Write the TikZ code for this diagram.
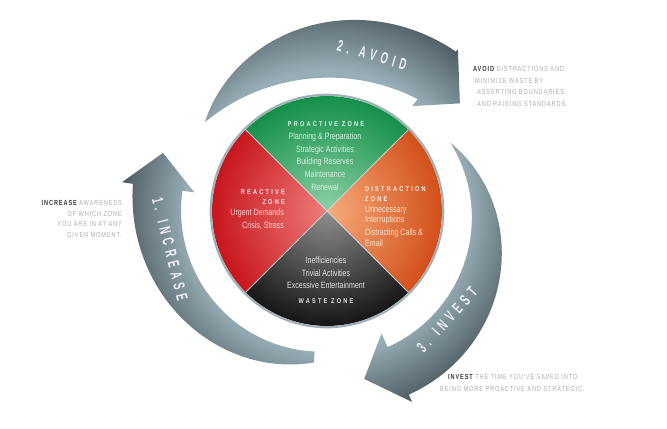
\documentclass[tikz,border=0pt]{standalone}
\usepackage{fontspec}
\setmainfont{Liberation Sans}
\newfontfamily\zonefont[FakeStretch=0.77]{Liberation Sans}
\newfontfamily\headfont[FakeStretch=0.8,LetterSpace=32]{Liberation Sans}
\newfontfamily\notefont[FakeStretch=0.76,LetterSpace=12]{Liberation Sans}
\newfontfamily\stepfont[FakeStretch=0.6,LetterSpace=30]{Liberation Sans}
\usetikzlibrary{positioning}
\usetikzlibrary{calc}

\definecolor{greenout}{HTML}{14904A}
\definecolor{greenin}{HTML}{8ED0A6}
\definecolor{redout}{HTML}{C8161D}
\definecolor{redin}{HTML}{EE7D7A}
\definecolor{orangeout}{HTML}{D2501A}
\definecolor{orangein}{HTML}{F6AC7C}
\definecolor{wasteout}{HTML}{161616}
\definecolor{wastein}{HTML}{8E8E8E}
\definecolor{ringdark}{HTML}{4E5C62}
\definecolor{ringlight}{HTML}{98AEB6}
\definecolor{rimgray}{HTML}{9FB1B7}
\definecolor{divider}{HTML}{D0D4D4}
\definecolor{greentext}{HTML}{D6F0DD}
\definecolor{redtext}{HTML}{FCD6D4}
\definecolor{orangetext}{HTML}{FDE2CF}
\definecolor{wastetext}{HTML}{E2E2E2}
\definecolor{notegray}{HTML}{ADADAD}
\definecolor{notedark}{HTML}{3C3C3C}

\pgfdeclareradialshading{ringshade}{\pgfpoint{0bp}{0bp}}{color(0bp)=(ringlight); color(16bp)=(ringlight); color(23.5bp)=(ringdark); color(50bp)=(ringdark)}

\tikzstyle{zonehead}=[font=\headfont\bfseries\fontsize{7}{7}\selectfont, inner sep=0pt]
\tikzstyle{zonetext}=[font=\zonefont\fontsize{9.2}{10}\selectfont, inner sep=0pt]
\tikzstyle{steplabel}=[font=\stepfont\bfseries\fontsize{16}{16}\selectfont, text=white!94!blue, inner sep=0pt]
\tikzstyle{note}=[font=\notefont\fontsize{7.4}{7.4}\selectfont, text=notegray, inner sep=0pt]

\begin{document}
\begin{tikzpicture}[x=1bp, y=1bp,
    declare function={
      avoidang(\t)=144-93*\t;
      avoidout(\t)=151+81*\t-27*\t*\t;
      avoidin(\t)=151-62.7*\t+55.7*\t*\t;
      investang(\t)=29-95*\t;
      investout(\t)=141+60*sin(90*\t);
      investin(\t)=141+8*sin(90*\t);
      increaseang(\t)=265-93*\t;
      increaseout(\t)=196-22*(1-\t)-22*(1-\t)*(1-\t);
      increasein(\t)=146-5*(1-\t)*(1-\t);
    }]

    \fill[white] (0,0) rectangle (667,-428);
    \useasboundingbox (0,0) rectangle (667,-428);

  \begin{scope}[shift={(327,-211)}]
    % the three step arrows
    \begin{scope}
      \clip plot[domain=0:1, samples=50, variable=\t] ({avoidout(\t)*cos(avoidang(\t))}, {avoidout(\t)*sin(avoidang(\t))})
          -- (51:208) -- (39:171) -- (51:135)
          -- plot[domain=1:0, samples=50, variable=\t] ({avoidin(\t)*cos(avoidang(\t))}, {avoidin(\t)*sin(avoidang(\t))}) -- cycle
        plot[domain=0:1, samples=50, variable=\t] ({investout(\t)*cos(investang(\t))}, {investout(\t)*sin(investang(\t))})
          -- (-66:209) -- (-77.5:172) -- (-66:134)
          -- plot[domain=1:0, samples=50, variable=\t] ({investin(\t)*cos(investang(\t))}, {investin(\t)*sin(investang(\t))}) -- cycle
        plot[domain=0:1, samples=50, variable=\t] ({increaseout(\t)*cos(increaseang(\t))}, {increaseout(\t)*sin(increaseang(\t))})
          -- (172:207) -- (160.5:174) -- (172:134)
          -- plot[domain=1:0, samples=50, variable=\t] ({increasein(\t)*cos(increaseang(\t))}, {increasein(\t)*sin(increaseang(\t))}) -- cycle;
      \shade[shading=ringshade] (0,0) circle (220);
    \end{scope}

    % zone wheel
    \foreach \from/\inner/\outer in {45/greenin/greenout, 135/redin/redout, 225/wastein/wasteout, 315/orangein/orangeout} {
      \begin{scope}
        \clip (0,0) -- (\from:115) arc[start angle=\from, delta angle=90, radius=115] -- cycle;
        \shade[inner color=\inner, outer color=\outer] (0,0) circle (115);
      \end{scope}
    }
    \draw[rimgray, line width=2.2] (0,0) circle (116.2);
    \draw[divider, line width=0.9] (45:115) -- (225:115) (135:115) -- (315:115);
  \end{scope}

    \node[steplabel, rotate=-16] (avoidlabel) at (372,-55) {2. AVOID};
    \node[steplabel, rotate=48] (investlabel) at (447,-320) {3. INVEST};
    \node[steplabel, rotate=-76] (increaselabel) at (170,-249) {1. INCREASE};

    % proactive
    \node[zonehead, text=greentext!60!white] (prohead) at (326,-124) {PROACTIVE ZONE};
    \foreach \pos/\name/\label in {{(325,-137)/plan/Planning \& Preparation}, {(325,-150)/strat/Strategic Activities},
        {(325,-162)/reserves/Building Reserves}, {(325,-174)/maint/Maintenance}, {(325,-187)/renew/Renewal}}
        \node[zonetext, text=greentext] (\name) at \pos {\label};

    % reactive
    \node[zonehead, text=redtext!50!white, anchor=east] (reacthead) at (285,-192) {REACTIVE};
    \node[zonehead, text=redtext!50!white, anchor=east] (reactzone) at (285,-202) {ZONE};
    \foreach \pos/\name/\label in {{(284,-213)/urgent/Urgent Demands}, {(284,-226)/crisis/Crisis, Stress}}
        \node[zonetext, text=redtext, anchor=east] (\name) at \pos {\label};

    % distraction
    \node[zonehead, text=orangetext!50!white, anchor=west] (disthead) at (365,-189) {DISTRACTION};
    \node[zonehead, text=orangetext!50!white, anchor=west] (distzone) at (365,-199) {ZONE};
    \foreach \pos/\name/\label in {{(365,-210)/unnec/Unnecessary}, {(365,-220)/interr/Interruptions},
        {(365,-233)/calls/Distracting Calls \&}, {(365,-243)/email/Email}}
        \node[zonetext, text=orangetext, anchor=west] (\name) at \pos {\label};

    % waste
    \foreach \pos/\name/\label in {{(326,-260)/ineff/Inefficiencies}, {(326,-273)/trivial/Trivial Activities},
        {(326,-285)/excess/Excessive Entertainment}}
        \node[zonetext, text=wastetext] (\name) at \pos {\label};
    \node[zonehead, text=wastetext] (wastehead) at (326,-301) {WASTE ZONE};

    % side notes
    \foreach \pos/\name/\label in {{(473,-69)/avoidA/{\textcolor{notedark}{\bfseries AVOID} DISTRACTIONS AND}}, {(475,-81)/avoidB/MINIMIZE WASTE BY},
        {(477,-92)/avoidC/ASSERTING BOUNDARIES}, {(477,-104)/avoidD/AND RAISING STANDARDS.}}
        \node[note, anchor=west] (\name) at \pos {\label};
    \foreach \pos/\name/\label in {{(122,-203)/increaseA/{\textcolor{notedark}{\bfseries INCREASE} AWARENESS}}, {(122,-214)/increaseB/OF WHICH ZONE},
        {(122,-224)/increaseC/YOU ARE IN AT ANY}, {(122,-235)/increaseD/GIVEN MOMENT.}}
        \node[note, anchor=east] (\name) at \pos {\label};
    \foreach \pos/\name/\label in {{(448,-377)/investA/{\textcolor{notedark}{\bfseries INVEST} THE TIME YOU'VE SAVED INTO}}, {(440,-389)/investB/BEING MORE PROACTIVE AND STRATEGIC.}}
        \node[note, anchor=west] (\name) at \pos {\label};

\end{tikzpicture}
\end{document}
